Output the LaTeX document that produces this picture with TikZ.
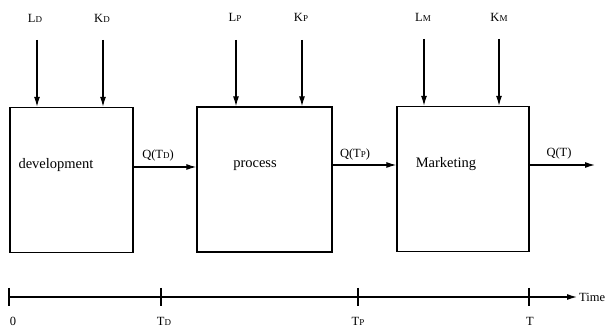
\documentclass[tikz,border=0pt]{standalone}
\usepackage{fontspec}
\setmainfont{Liberation Serif}
\usetikzlibrary{arrows.meta, positioning}

\newcommand{\subtxt}[1]{{\fontsize{9}{10}\selectfont #1}}

\begin{document}
\begin{tikzpicture}[x=1pt, y=-1pt]
        \tikzstyle{block} = [rectangle, draw = black, line width = 1.3pt, minimum height = 145pt, inner sep = 0pt]
        \tikzstyle{connect} = [-{Latex[length=10pt, width=6pt]}, line width = 1.2pt]
        \tikzstyle{lbl} = [font = \fontsize{12.5}{14}\selectfont, inner sep = 1pt]
        \tikzstyle{stagename} = [font = \fontsize{14.5}{16}\selectfont, inner sep = 1pt]
        \useasboundingbox (0,0) rectangle (611,328);
        % the three stages
        \node[block, minimum width = 123pt] (dev) at (71.5,180) {};
        \node[block, minimum width = 135pt] (proc) at (264.5,179.5) {};
        \node[block, minimum width = 132pt] (mkt) at (463,179) {};
        \node[stagename] (devname) at (56,165) {development};
        \node[stagename] (procname) at (255,166) {process};
        \node[stagename] (mktname) at (446,164) {Marketing};
        % inputs from above
        \node[lbl] (ld) at (35,18) {L\subtxt{D}};
        \node[lbl] (kd) at (102,18) {K\subtxt{D}};
        \node[lbl] (lp) at (235,17) {L\subtxt{P}};
        \node[lbl] (kp) at (301,17) {K\subtxt{P}};
        \node[lbl] (lm) at (423,17) {L\subtxt{M}};
        \node[lbl] (km) at (499,17) {K\subtxt{M}};
        \coordinate (ldin) at (37,40);
        \coordinate (kdin) at (103,40);
        \coordinate (lpin) at (236,40);
        \coordinate (kpin) at (302,40);
        \coordinate (lmin) at (424,39);
        \coordinate (kmin) at (499,39);
        \draw[connect] (ldin) -- (ldin |- dev.north);
        \draw[connect] (kdin) -- (kdin |- dev.north);
        \draw[connect] (lpin) -- (lpin |- proc.north);
        \draw[connect] (kpin) -- (kpin |- proc.north);
        \draw[connect] (lmin) -- (lmin |- mkt.north);
        \draw[connect] (kmin) -- (kmin |- mkt.north);
        % output flows
        \coordinate (qd) at (dev.east |- 0,167);
        \coordinate (qp) at (proc.east |- 0,165);
        \coordinate (qm) at (mkt.east |- 0,165);
        \coordinate (qend) at (595,165);
        \draw[connect] (qd) -- (qd -| proc.west);
        \draw[connect] (qp) -- (qp -| mkt.west);
        \draw[connect] (qm) -- (qend);
        \node[lbl] (qdl) at (158,155) {Q(T\subtxt{D})};
        \node[lbl] (qpl) at (355,154) {Q(T\subtxt{P})};
        \node[lbl] (qml) at (559,153) {Q(T)};
        % time axis
        \coordinate (t0) at (9,297);
        \coordinate (tend) at (577,297);
        \draw[connect] (t0) -- (tend);
        \node[lbl, right = 1pt of tend] (time) {Time};
        \foreach \x/\n in {9/a, 161/b, 358/c, 529/d}
          \draw[line width = 1.2pt] (\x,288) coordinate (tick\n) -- (\x,306);
        \node[lbl] (l0) at (13,321) {0};
        \node[lbl] (ltd) at (164,321) {T\subtxt{D}};
        \node[lbl] (ltp) at (358,321) {T\subtxt{P}};
        \node[lbl] (lt) at (530,321) {T};
      \end{tikzpicture}
\end{document}
